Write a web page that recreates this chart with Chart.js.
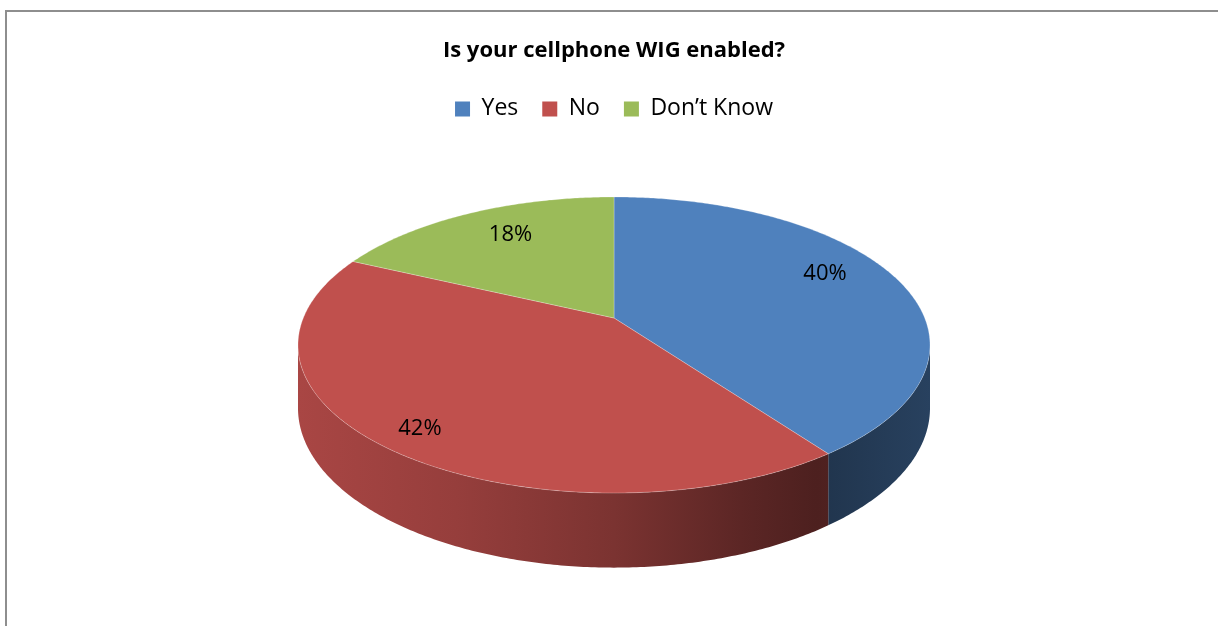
<!DOCTYPE html>
<html>
<head>
<meta charset="utf-8">
<title>WIG</title>
<script src="https://cdn.jsdelivr.net/npm/chart.js@4.4.0/dist/chart.umd.min.js"></script>
<style>
  html, body { margin: 0; padding: 0; background: #fff; }
  #wrap { width: 1218px; height: 626px; }
</style>
</head>
<body>
<div id="wrap"><canvas id="wigChart" width="1218" height="626"></canvas></div>
<script>
// Данные опроса
const answers = ['Yes', 'No', 'Don\u2019t Know'];
const shares = [40, 42, 18];
const sliceColors = ['#4F81BD', '#C0504D', '#9BBB59'];

const FONT = '"Open Sans", "Liberation Sans", sans-serif';

// Затемнение цвета
function shade(hex, f) {
  const n = parseInt(hex.slice(1), 16);
  const r = Math.round(((n >> 16) & 255) * f);
  const g = Math.round(((n >> 8) & 255) * f);
  const b = Math.round((n & 255) * f);
  return `rgb(${r},${g},${b})`;
}

// Точка на наклонном диске (перспектива)
function project(geo, ang, t, drop) {
  const u = Math.cos(ang) * t;
  const v = Math.sin(ang) * t;
  const w = 1 - geo.k * v;
  const x = geo.cx + geo.ax * u / w;
  const y = geo.cy + geo.by * v / w + (drop ? geo.depth / w : 0);
  return [x, y];
}

function traceArc(ctx, geo, a0, a1, drop, reverse) {
  const steps = Math.max(8, Math.ceil((a1 - a0) / 0.01));
  for (let s = 0; s <= steps; s++) {
    const k = reverse ? steps - s : s;
    const [x, y] = project(geo, a0 + (a1 - a0) * k / steps, 1, drop);
    ctx.lineTo(x, y);
  }
}

// Рамка области диаграммы
const chartFrame = {
  id: 'chartFrame',
  beforeDraw(chart) {
    const ctx = chart.ctx;
    ctx.save();
    ctx.strokeStyle = '#8E8E8E';
    ctx.lineWidth = 2;
    ctx.beginPath();
    ctx.moveTo(6, chart.height);
    ctx.lineTo(6, 11);
    ctx.lineTo(chart.width, 11);
    ctx.stroke();
    ctx.restore();
  }
};

// Объёмная круговая диаграмма
const pie3d = {
  id: 'pie3d',
  beforeDatasetsDraw(chart, args, opts) {
    const ctx = chart.ctx;
    const arcs = chart.getDatasetMeta(0).data;
    if (!arcs.length) return false;
    const geo = { cx: arcs[0].x, cy: opts.centerY, ax: opts.radiusX, by: opts.radiusY, k: opts.perspective, depth: opts.depth };
    const frontStart = Math.asin(geo.k);
    const frontEnd = Math.PI - frontStart;
    const left = project(geo, frontEnd, 1)[0];
    const right = project(geo, frontStart, 1)[0];

    ctx.save();
    // Боковые стенки
    arcs.forEach((arc, i) => {
      const a0 = Math.max(arc.startAngle, frontStart);
      const a1 = Math.min(arc.endAngle, frontEnd);
      if (a1 <= a0) return;
      const grad = ctx.createLinearGradient(left, 0, right, 0);
      opts.wallShade.forEach(([pos, f]) => grad.addColorStop(pos, shade(sliceColors[i], f)));
      ctx.beginPath();
      const [sx, sy] = project(geo, a0, 1);
      ctx.moveTo(sx, sy);
      traceArc(ctx, geo, a0, a1, false, false);
      traceArc(ctx, geo, a0, a1, true, true);
      ctx.closePath();
      ctx.fillStyle = grad;
      ctx.fill();
    });

    // Верхние грани
    const [vx, vy] = project(geo, 0, 0);
    arcs.forEach((arc, i) => {
      ctx.beginPath();
      ctx.moveTo(vx, vy);
      traceArc(ctx, geo, arc.startAngle, arc.endAngle, false, false);
      ctx.closePath();
      ctx.fillStyle = sliceColors[i];
      ctx.fill();
      ctx.strokeStyle = 'rgba(255,255,255,0.25)';
      ctx.lineWidth = 1;
      ctx.stroke();
    });

    // Подписи процентов
    ctx.fillStyle = '#000';
    ctx.font = `22px ${FONT}`;
    ctx.textAlign = 'center';
    ctx.textBaseline = 'middle';
    arcs.forEach((arc, i) => {
      const mid = (arc.startAngle + arc.endAngle) / 2 + opts.labelTurn[i] * Math.PI / 180;
      const [x, y] = project(geo, mid, opts.labelRadius[i]);
      ctx.fillText(shares[i] + '%', x, y);
    });
    ctx.restore();
    return false;
  }
};

new Chart(document.getElementById('wigChart'), {
  type: 'pie',
  data: {
    labels: answers,
    datasets: [{
      data: shares,
      backgroundColor: sliceColors,
      borderWidth: 0
    }]
  },
  plugins: [chartFrame, pie3d],
  options: {
    responsive: false,
    animation: false,
    layout: { padding: { left: 10, right: 0, top: 0, bottom: 0 } },
    plugins: {
      title: {
        display: true,
        text: 'Is your cellphone WIG enabled?',
        color: '#000',
        font: { family: FONT, size: 22, weight: 'bold' },
        padding: { top: 38, bottom: 9 }
      },
      legend: {
        position: 'top',
        labels: {
          color: '#000',
          font: { family: FONT, size: 23 },
          boxWidth: 15,
          boxHeight: 15,
          padding: 24
        }
      },
      tooltip: { enabled: false },
      pie3d: {
        centerY: 318,
        radiusX: 310.7,
        radiusY: 143.1,
        perspective: 0.1824,
        depth: 61,
        labelRadius: [0.79, 0.87, 0.75],
        labelTurn: [-6.4, -0.6, 2.6],
        wallShade: [[0, 0.88], [0.25, 0.78], [0.5, 0.64], [0.7, 0.48], [0.82, 0.4], [1, 0.5]]
      }
    }
  }
});
</script>
</body>
</html>
